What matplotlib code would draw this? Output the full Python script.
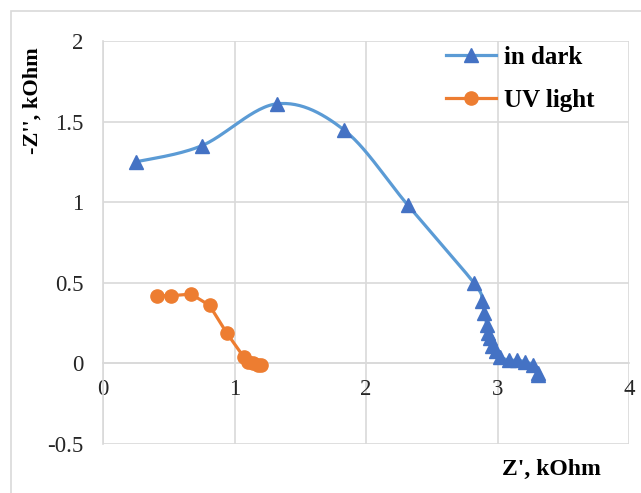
import numpy as np
import matplotlib
matplotlib.use("Agg")
import matplotlib.pyplot as plt
from matplotlib.patches import Rectangle

# impedance spectra, kOhm
dark_re = [0.25, 0.75, 1.32, 1.83, 2.32, 2.82, 2.88, 2.90, 2.92, 2.93, 2.94,
           2.96, 2.99, 3.02, 3.09, 3.15, 3.21, 3.27, 3.31, 3.31]
dark_im = [1.25, 1.35, 1.61, 1.45, 0.98, 0.50, 0.39, 0.31, 0.24, 0.19, 0.155,
           0.11, 0.08, 0.04, 0.02, 0.02, 0.01, -0.01, -0.06, -0.07]

uv_re = [0.41, 0.52, 0.67, 0.81, 0.94, 1.07, 1.10, 1.14, 1.18, 1.20]
uv_im = [0.42, 0.42, 0.43, 0.36, 0.19, 0.04, 0.01, 0.005, -0.01, -0.01]

x_ticks = [0, 1, 2, 3, 4]
y_ticks = [-0.5, 0, 0.5, 1, 1.5, 2]

GRID = "#d9d9d9"
SERIF = ["Liberation Serif", "DejaVu Serif"]


def smooth(xs, ys, n=30):
    # cardinal (Catmull-Rom) curve through the points, like a smoothed line
    p = np.column_stack([xs, ys]).astype(float)
    p = np.vstack([p[0], p, p[-1]])
    out = []
    t = np.linspace(0, 1, n, endpoint=False)[:, None]
    for i in range(1, len(p) - 2):
        p0, p1, p2, p3 = p[i - 1], p[i], p[i + 1], p[i + 2]
        c1 = p1 + (p2 - p0) / 6
        c2 = p2 - (p3 - p1) / 6
        seg = ((1 - t) ** 3 * p1 + 3 * (1 - t) ** 2 * t * c1
               + 3 * (1 - t) * t ** 2 * c2 + t ** 3 * p2)
        out.append(seg)
    out.append(p[-2][None, :])
    out = np.vstack(out)
    return out[:, 0], out[:, 1]


plt.rcParams["font.family"] = SERIF

fig = plt.figure(figsize=(6.41, 4.93), dpi=100)
fig.patches.append(Rectangle((11 / 641, -0.1), 1.2, 1 - 11 / 493 + 0.1,
                             transform=fig.transFigure, fill=False,
                             edgecolor=GRID, lw=1.2))
ax = fig.add_axes([103 / 641, 1 - 444 / 493, 526 / 641, 403 / 493])

sx, sy = smooth(dark_re, dark_im)
ax.plot(sx, sy, color="#5b9bd5", lw=2.3, zorder=3)
ax.plot(dark_re, dark_im, ls="none", marker="^", ms=9.5,
        color="#4472c4", zorder=4)
ax.plot([], [], color="#5b9bd5", lw=2.3, marker="^", ms=9.5,
        mfc="#4472c4", mec="#4472c4", label="in dark")

ax.plot(uv_re, uv_im, color="#ed7d31", lw=2.3, marker="o", ms=9.5,
        zorder=3, label="UV light")

ax.set_xlim(x_ticks[0], x_ticks[-1])
ax.set_ylim(y_ticks[0], y_ticks[-1])
ax.set_xticks(x_ticks)
ax.set_yticks(y_ticks)
ax.set_xticklabels([f"{v:g}" for v in x_ticks])
ax.set_yticklabels([f"{v:g}" for v in y_ticks])
ax.grid(True, color=GRID, lw=1.2, zorder=0)
ax.set_axisbelow(True)
for side in ["top", "right"]:
    ax.spines[side].set_visible(False)
ax.spines["left"].set_color(GRID)
ax.spines["left"].set_linewidth(1.2)
ax.spines["bottom"].set_position(("data", 0))
ax.spines["bottom"].set_color(GRID)
ax.spines["bottom"].set_linewidth(1.2)
ax.tick_params(length=0, labelsize=16.5, labelcolor="#262626")
ax.tick_params(axis="x", pad=11)
ax.tick_params(axis="y", pad=14)

fig.text(551 / 641, 1 - 469 / 493, "Z', kOhm", ha="center", va="center",
         fontsize=17, fontweight="bold")
fig.text(33 / 641, 1 - 101 / 493, "-Z'', kOhm", ha="center", va="center",
         rotation=90, fontsize=16, fontweight="bold")

ax.legend(loc="upper left", bbox_to_anchor=(446 / 641, 1 - 46 / 493),
          bbox_transform=fig.transFigure, frameon=False,
          prop={"family": SERIF, "weight": "bold", "size": 18},
          handlelength=2.0, handletextpad=0.3, labelspacing=0.8,
          borderpad=0, borderaxespad=0)

fig.savefig("out.png", dpi=100)
